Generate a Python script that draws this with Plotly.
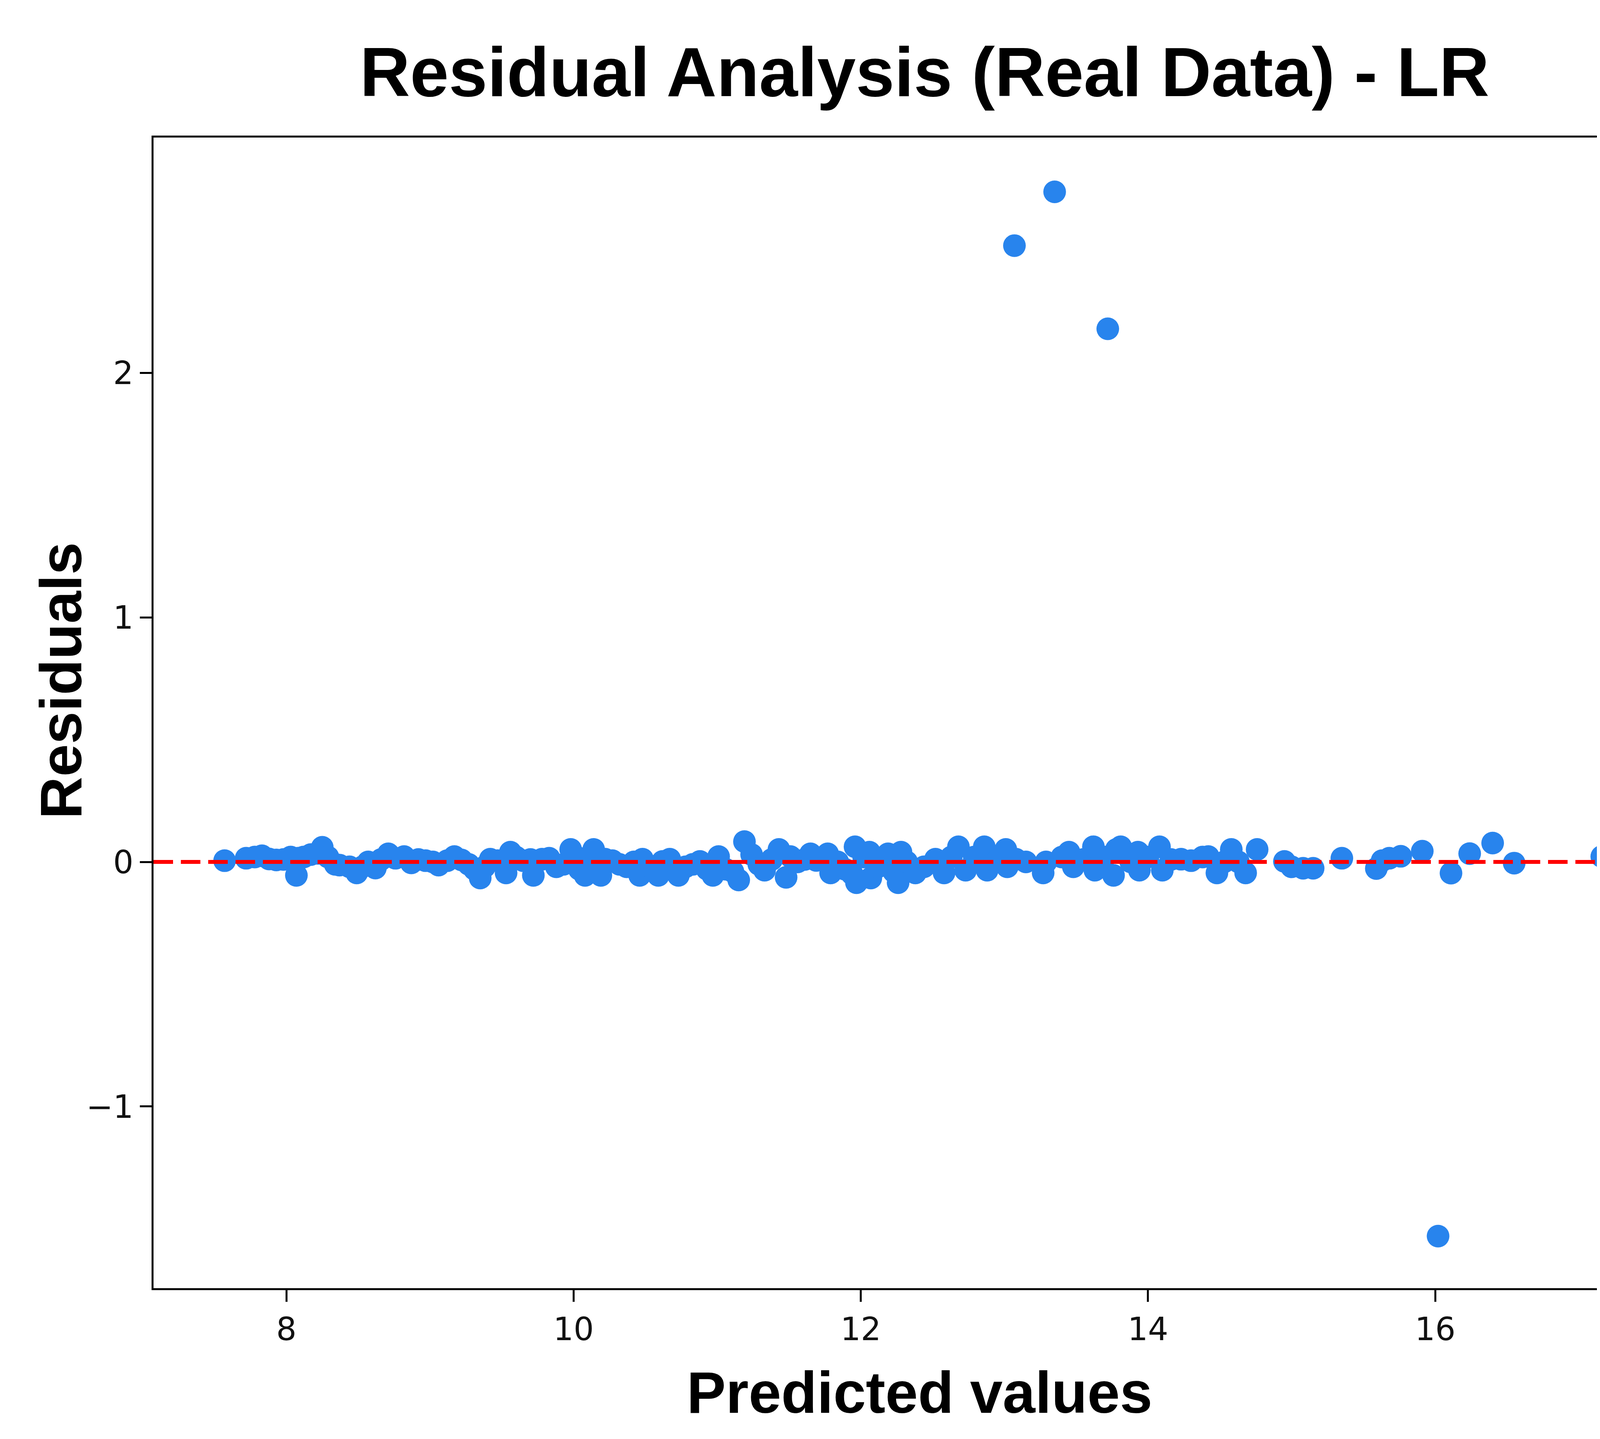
import plotly.graph_objects as go

# predicted values (x) and residuals (y)
predicted = [7.57, 7.72, 7.78, 7.83, 7.88, 7.93, 7.98, 8.03, 8.07, 8.08, 8.12, 8.17, 8.22, 8.25, 8.29,
             8.34, 8.37, 8.44, 8.49, 8.53, 8.57, 8.62, 8.66, 8.71, 8.76, 8.82, 8.87, 8.92, 8.97, 9.02,
             9.06, 9.12, 9.17, 9.22, 9.27, 9.31, 9.35, 9.38, 9.42, 9.47, 9.53, 9.56, 9.60, 9.65, 9.70,
             9.72, 9.78, 9.83, 9.88, 9.93, 9.98, 10.02, 10.04, 10.08, 10.12, 10.14, 10.19, 10.22, 10.27,
             10.32, 10.37, 10.42, 10.46, 10.48, 10.53, 10.59, 10.62, 10.67, 10.73, 10.78, 10.83, 10.88,
             10.93, 10.97, 11.01, 11.06, 11.11, 11.15, 11.19, 11.24, 11.29, 11.33, 11.38, 11.43, 11.48,
             11.51, 11.56, 11.61, 11.65, 11.69, 11.77, 11.79, 11.84, 11.89, 11.94, 11.96, 11.97, 12.02,
             12.06, 12.07, 12.12, 12.16, 12.19, 12.23, 12.26, 12.28, 12.32, 12.38, 12.44, 12.52, 12.58,
             12.63, 12.68, 12.73, 12.79, 12.86, 12.88, 12.94, 13.01, 13.02, 13.08, 13.15, 13.27, 13.29,
             13.40, 13.45, 13.48, 13.55, 13.62, 13.63, 13.70, 13.76, 13.78, 13.81, 13.88, 13.93, 13.94,
             14.00, 14.08, 14.10, 14.16, 14.23, 14.30, 14.38, 14.42, 14.48, 14.53, 14.58, 14.63, 14.68,
             14.76, 14.95, 15.00, 15.08, 15.15, 15.35, 15.59, 15.63, 15.68, 15.76, 15.91, 16.11, 16.24,
             16.40, 16.55, 17.16,
             13.07, 13.35, 13.72, 17.33, 16.02]
residuals = [0.005, 0.015, 0.020, 0.025, 0.012, 0.008, 0.010, 0.020, -0.055, 0.015, 0.020, 0.030, 0.035, 0.060, 0.020,
             -0.010, -0.013, -0.020, -0.045, -0.020, 0.000, -0.025, 0.010, 0.033, 0.015, 0.022, -0.004, 0.010, 0.005, 0.000,
             -0.013, 0.005, 0.022, 0.008, -0.010, -0.030, -0.066, -0.020, 0.011, 0.005, -0.045, 0.040, 0.020, 0.005, 0.010,
             -0.055, 0.011, 0.015, -0.020, -0.010, 0.051, 0.020, -0.030, -0.055, 0.000, 0.051, -0.055, 0.011, 0.005,
             -0.010, -0.020, 0.000, -0.055, 0.011, -0.020, -0.055, 0.002, 0.011, -0.055, -0.020, -0.010, 0.002,
             -0.030, -0.055, 0.022, -0.030, -0.040, -0.074, 0.083, 0.030, -0.010, -0.034, 0.010, 0.051, -0.063,
             0.022, 0.000, 0.010, 0.033, 0.006, 0.033, -0.045, 0.000, -0.030, -0.050, 0.062, -0.085, 0.020,
             0.040, -0.066, -0.020, 0.010, 0.033, -0.040, -0.085, 0.040, 0.000, -0.045, -0.020, 0.011, -0.045,
             0.020, 0.062, -0.034, 0.020, 0.062, -0.034, 0.000, 0.051, -0.020, 0.011, 0.000, -0.045, 0.000,
             0.020, 0.040, -0.020, 0.010, 0.062, -0.034, 0.020, -0.055, 0.051, 0.062, 0.000, 0.040, -0.034,
             0.020, 0.062, -0.034, 0.010, 0.011, 0.005, 0.020, 0.022, -0.045, 0.000, 0.051, 0.000, -0.045,
             0.051, 0.002, -0.020, -0.026, -0.026, 0.015, -0.027, 0.005, 0.015, 0.023, 0.044, -0.046, 0.034,
             0.077, -0.005, 0.022,
             2.52, 2.74, 2.18, 1.47, -1.53]

x_ticks = [8, 10, 12, 14, 16]
y_ticks = [-1, 0, 1, 2]

fig = go.Figure()

fig.add_trace(go.Scatter(x=predicted, y=residuals, mode='markers',
                         marker=dict(color='#2884ed', size=58, line=dict(width=0)),
                         showlegend=False))

# zero reference line, drawn above the points like in the original
fig.add_hline(y=0, line=dict(color='red', width=10, dash='50px,20px'), layer='above')

tick_font = dict(family='DejaVu Sans', size=82, color='#111111')
label_font = dict(family='Liberation Sans, Arial, sans-serif', size=150, color='black', weight='bold')

fig.update_layout(
    width=4389, height=3683,
    margin=dict(l=385, r=56, t=344, b=394),
    paper_bgcolor='white', plot_bgcolor='white',
    title=dict(text='Residual Analysis (Real Data) - LR',
               font=dict(family='Liberation Sans, Arial, sans-serif', size=178, color='black', weight='bold'),
               xref='paper', x=0.5, xanchor='center',
               yref='container', y=1 - 176 / 3683, yanchor='middle'),
    xaxis=dict(range=[7.075, 17.814], tickvals=x_ticks, ticks='outside', ticklen=30, tickwidth=5,
               tickcolor='black', showline=True, linecolor='black', linewidth=5, mirror=True,
               showgrid=False, zeroline=False, tickfont=tick_font),
    yaxis=dict(range=[-1.743, 2.962], tickvals=y_ticks, ticks='outside', ticklen=30, tickwidth=5,
               tickcolor='black', showline=True, linecolor='black', linewidth=5, mirror=True,
               showgrid=False, zeroline=False, tickfont=tick_font),
    annotations=[
        dict(text='Predicted values', xref='paper', yref='paper', x=0.4967, y=-0.0907,
             xanchor='center', yanchor='middle', showarrow=False, font=label_font),
        dict(text='Residuals', xref='paper', yref='paper', x=-0.060, y=0.528, textangle=-90,
             xanchor='center', yanchor='middle', showarrow=False, font=label_font),
    ],
)

fig.write_html("out.html")
